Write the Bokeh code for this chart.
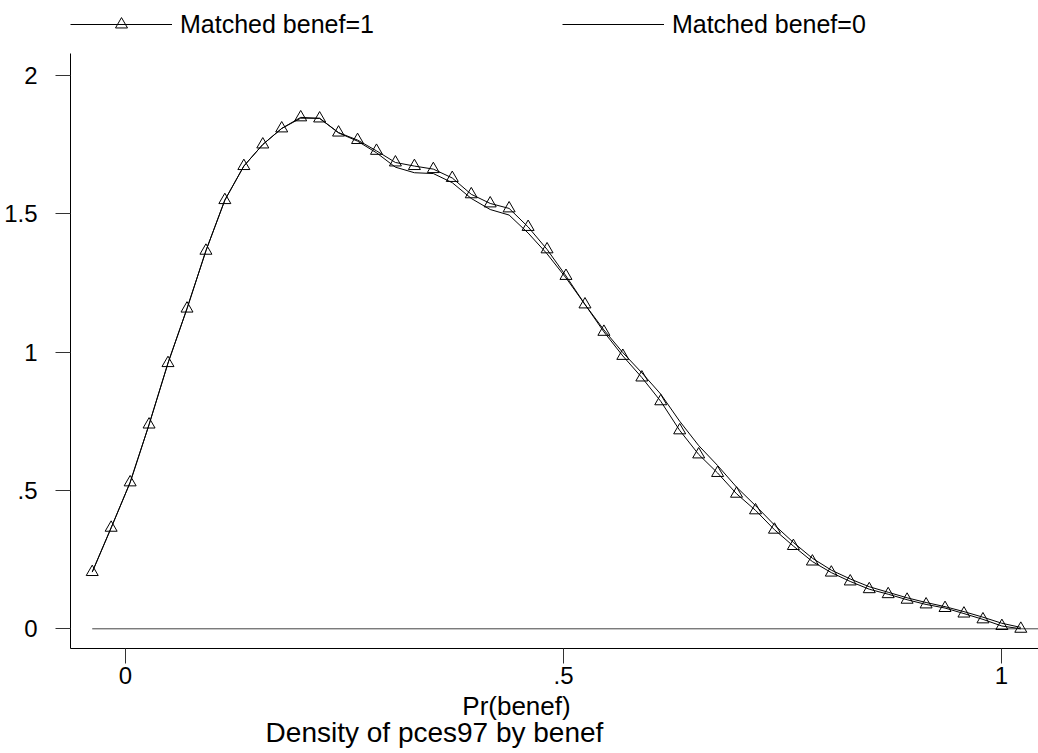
from bokeh.plotting import figure
from bokeh.models import Range1d, FixedTicker, Label, Legend, LegendItem
from bokeh.embed import file_html
from bokeh.resources import INLINE

# Evaluation grid (Pr(benef))
x_grid = [-0.0380, -0.0164, 0.0053, 0.0269, 0.0485, 0.0702, 0.0918, 0.1134, 0.1351, 0.1567,
          0.1783, 0.2000, 0.2216, 0.2432, 0.2649, 0.2865, 0.3081, 0.3298, 0.3514, 0.3730,
          0.3947, 0.4163, 0.4379, 0.4596, 0.4812, 0.5028, 0.5245, 0.5461, 0.5677, 0.5894,
          0.6110, 0.6326, 0.6543, 0.6759, 0.6975, 0.7192, 0.7408, 0.7624, 0.7841, 0.8057,
          0.8273, 0.8490, 0.8706, 0.8922, 0.9139, 0.9355, 0.9571, 0.9788, 1.0004, 1.0220]

# Density, matched benef=1 (triangles)
dens_benef1 = [0.205, 0.365, 0.529, 0.738, 0.960, 1.157, 1.366, 1.549, 1.672, 1.750,
               1.808, 1.848, 1.844, 1.793, 1.766, 1.727, 1.685, 1.672, 1.661, 1.629,
               1.570, 1.537, 1.519, 1.452, 1.371, 1.275, 1.172, 1.073, 0.986, 0.908,
               0.822, 0.717, 0.630, 0.563, 0.488, 0.428, 0.358, 0.299, 0.243, 0.203,
               0.171, 0.143, 0.125, 0.105, 0.088, 0.075, 0.055, 0.034, 0.010, 0.000]

# Density, matched benef=0 (plain line)
dens_benef0 = [0.205, 0.365, 0.529, 0.738, 0.960, 1.157, 1.366, 1.549, 1.672, 1.750,
               1.808, 1.845, 1.845, 1.792, 1.762, 1.720, 1.668, 1.648, 1.645, 1.612,
               1.555, 1.515, 1.495, 1.430, 1.355, 1.268, 1.172, 1.080, 0.998, 0.925,
               0.848, 0.750, 0.662, 0.590, 0.512, 0.445, 0.375, 0.312, 0.255, 0.212,
               0.180, 0.152, 0.132, 0.112, 0.095, 0.080, 0.062, 0.042, 0.020, 0.005]

# zero reference line
zero_x = [-0.0380, 1.0600]
zero_y = [0.0, 0.0]

x_ticks = [0, 0.5, 1]
x_tick_labels = ["0", ".5", "1"]
y_ticks = [0, 0.5, 1, 1.5, 2]
y_tick_labels = ["0", ".5", "1", "1.5", "2"]

FONT = "Liberation Sans"

# plot-region extents (where the axis lines are drawn)
X_AXIS_AT = -0.0712
Y_AXIS_AT = -0.0628
X_END = 1.0422
Y_END = 2.079

p = figure(width=1038, height=753, output_backend="svg", toolbar_location=None,
           x_range=Range1d(-0.1427, 1.0422), y_range=Range1d(-0.4506, 2.2703),
           min_border_left=0, min_border_right=0, min_border_top=0, min_border_bottom=0)
p.outline_line_color = None
p.xgrid.visible = False
p.ygrid.visible = False
p.background_fill_color = "white"
p.border_fill_color = "white"

for ax, ticks, labels in ((p.xaxis[0], x_ticks, x_tick_labels), (p.yaxis[0], y_ticks, y_tick_labels)):
    ax.ticker = FixedTicker(ticks=ticks)
    ax.major_label_overrides = {t: l for t, l in zip(ticks, labels)}
    ax.axis_line_color = "black"
    ax.axis_line_width = 1
    ax.major_tick_line_color = "#333333"
    ax.major_tick_out = 15
    ax.major_tick_in = 0
    ax.minor_tick_line_color = None
    ax.major_label_text_font = FONT
    ax.major_label_text_font_size = "24px"
    ax.major_label_text_color = "black"
p.xaxis.fixed_location = X_AXIS_AT
p.yaxis.fixed_location = Y_AXIS_AT
p.xaxis.bounds = (Y_AXIS_AT, X_END)
p.yaxis.bounds = (X_AXIS_AT, Y_END)
p.xaxis.major_label_standoff = 3
p.yaxis.major_label_standoff = 18
p.yaxis.major_label_orientation = "horizontal"

zl = p.line(zero_x, zero_y, line_color="#444444", line_width=1)
l0 = p.line(x_grid, dens_benef0, line_color="black", line_width=1)
l1 = p.line(x_grid, dens_benef1, line_color="black", line_width=1)
m1 = p.scatter(x_grid, dens_benef1, marker="triangle", size=12, line_color="black",
               fill_alpha=0, line_width=1)

legend = Legend(items=[LegendItem(label="Matched benef=1", renderers=[l1, m1]),
                       LegendItem(label="Matched benef=0", renderers=[l0])],
                orientation="horizontal", location=(70, 714), padding=0, margin=0,
                spacing=188, glyph_width=102, glyph_height=30, label_standoff=8,
                label_text_font=FONT, label_text_font_size="25px",
                label_text_color="black",
                border_line_color=None, background_fill_alpha=0)
p.add_layout(legend, "center")

p.add_layout(Label(x=0.4463, y=-0.2775, text="Pr(benef)", text_align="center",
                   text_baseline="middle", text_font=FONT, text_font_size="26px",
                   text_color="black"))
p.add_layout(Label(x=0.3527, y=-0.3734, text="Density of pces97 by benef", text_align="center",
                   text_baseline="middle", text_font=FONT, text_font_size="28px",
                   text_color="black"))

open("out.html", "w").write(file_html(p, INLINE))
